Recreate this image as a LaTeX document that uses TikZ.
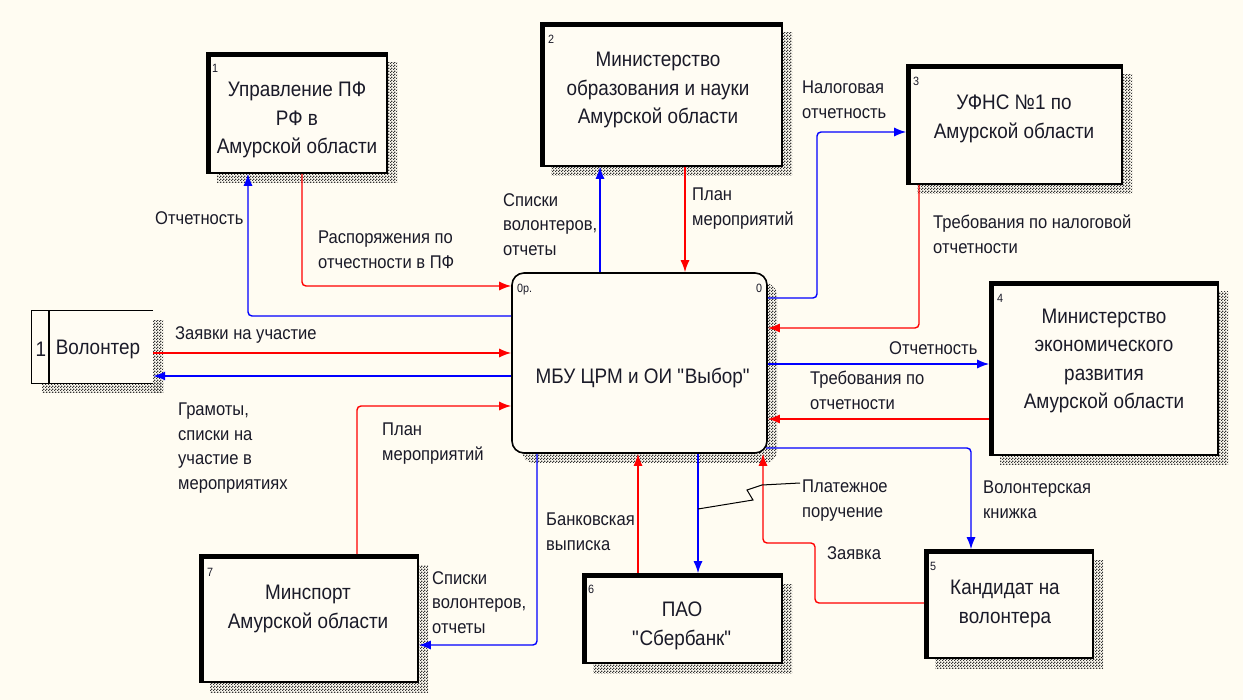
\documentclass[tikz,border=0pt]{standalone}
\usepackage{fontspec}
\setmainfont{Liberation Sans}[FakeStretch=0.9]
\usetikzlibrary{patterns,fit,arrows.meta}
\definecolor{bgc}{HTML}{FFFCF2}
\definecolor{boxc}{HTML}{FFFCF3}
\definecolor{txt}{HTML}{1A1A28}
\definecolor{rdc}{HTML}{FF0000}
\definecolor{blc}{HTML}{0000FF}
\pgfdeclarepatternformonly{checkerpat}{\pgfqpoint{0pt}{0pt}}{\pgfqpoint{3pt}{3pt}}{\pgfqpoint{3pt}{3pt}}{%
  \pgfpathrectangle{\pgfqpoint{0pt}{0pt}}{\pgfqpoint{1.5pt}{1.5pt}}%
  \pgfpathrectangle{\pgfqpoint{1.5pt}{1.5pt}}{\pgfqpoint{1.5pt}{1.5pt}}%
  \pgfusepath{fill}}
\newcommand\dq{\XeTeXglyph\XeTeXcharglyph"22\relax}
\begin{document}
\begin{tikzpicture}[x=1pt,y=-1pt,
  rline/.style={draw=rdc, line width=1.4pt, rounded corners=4pt, -{Latex[length=12pt,width=9pt]}},
  bline/.style={draw=blc, line width=1.4pt, rounded corners=4pt, -{Latex[length=12pt,width=9pt]}},
  lbl/.style={anchor=north west, inner sep=0pt, align=left, font=\fontsize{18.4}{24.5}\selectfont, text=txt},
  btxt/.style={align=center, inner sep=0pt, font=\fontsize{21}{28.5}\selectfont, text=txt},
  num/.style={anchor=north west, inner sep=0pt, font=\fontsize{12}{12}\selectfont, text=txt},
  frame/.style={draw=black, line width=1.6pt, fill=boxc, inner sep=0pt},
  thickb/.style={draw=black, line width=5pt},
  shadowst/.style={pattern=checkerpat, pattern color=black!80},
  sq/.style={draw=black, line width=1pt}
]
\useasboundingbox (0,0) rectangle (1243,700);
\fill[bgc] (0,0) rectangle (1243,700);

% ---------- shadows ----------
\fill[shadowst] (217,63) rectangle (397,183);
\fill[shadowst] (551,33) rectangle (792,176);
\fill[shadowst] (917,75) rectangle (1132,194);
\fill[shadowst] (1000,292) rectangle (1228,465);
\fill[shadowst] (210,565) rectangle (428,692);
\fill[shadowst] (593,584) rectangle (792,673);
\fill[shadowst] (935,560) rectangle (1103,668);
\fill[shadowst, rounded corners=12pt] (522,283) rectangle (777,463);
\fill[shadowst] (153,321) rectangle (163,393);
\fill[shadowst] (42,383) rectangle (163,393);

% ---------- boxes ----------
\node[frame, fit={(207,53)(387,173)}] (b1) {};
\draw[thickb] ([xshift=2pt]b1.south west) |- ([yshift=-2pt]b1.north east);
\node[btxt] (t1) at (297,120) {Управление ПФ\\РФ в\\Амурской области};
\node[num] (n1) at (212,64) {1};

\node[frame, fit={(541,23)(782,166)}] (b2) {};
\draw[thickb] ([xshift=2pt]b2.south west) |- ([yshift=-2pt]b2.north east);
\node[btxt] (t2) at (658,90) {Министерство\\образования и науки\\Амурской области};
\node[num] (n2) at (548,35) {2};

\node[frame, fit={(907,65)(1122,184)}] (b3) {};
\draw[thickb] ([xshift=2pt]b3.south west) |- ([yshift=-2pt]b3.north east);
\node[btxt] (t3) at (1014,119) {УФНС №1 по\\Амурской области};
\node[num] (n3) at (913,77) {3};

\node[frame, fit={(990,282)(1218,455)}] (b4) {};
\draw[thickb] ([xshift=2pt]b4.south west) |- ([yshift=-2pt]b4.north east);
\node[btxt] (t4) at (1104,361) {Министерство\\экономического\\развития\\Амурской области};
\node[num] (n4) at (997,294) {4};

\node[frame, fit={(200,555)(418,682)}] (b7) {};
\draw[thickb] ([xshift=2pt]b7.south west) |- ([yshift=-2pt]b7.north east);
\node[btxt] (t7) at (308,609) {Минспорт\\Амурской области};
\node[num] (n7) at (207,568) {7};

\node[frame, fit={(583,574)(782,663)}] (b6) {};
\draw[thickb] ([xshift=2pt]b6.south west) |- ([yshift=-2pt]b6.north east);
\node[btxt] (t6) at (682,626) {ПАО\\\dq Сбербанк\dq};
\node[num] (n6) at (588,585) {6};

\node[frame, fit={(925,550)(1093,658)}] (b5) {};
\draw[thickb] ([xshift=2pt]b5.south west) |- ([yshift=-2pt]b5.north east);
\node[btxt] (t5) at (1005,604) {Кандидат на\\волонтера};
\node[num] (n5) at (930,562) {5};

% center process
\node[frame, rounded corners=12pt, fit={(512,273)(767,453)}] (c) {};
\node[btxt] (tc) at (643,378) {МБУ ЦРМ и ОИ \dq Выбор\dq};
\node[num] (nc1) at (517,284) {0р.};
\node[num] (nc2) at (756,284) {0};

% volunteer external entity
\node[fill=boxc, inner sep=0pt, fit={(32,311)(153,383)}] (v) {};
\draw[black, line width=1.3pt] (v.north east) -- (v.north west) -- (v.south west) -- (v.south east);
\draw[black, line width=1.3pt] (v.north west -| 49,0) -- (v.south west -| 49,0);
\node[btxt] (tv1) at (41,349) {1};
\node[btxt] (tv) at (98,349) {Волонтер};

% ---------- connectors ----------
\draw[bline] (c.west |- 0,316) -| (b1.south -| 248,0);
\draw[rline] (b1.south -| 302,0) |- (c.west |- 0,286);
\draw[rline] (v.east |- 0,353) -- (c.west |- 0,353);
\draw[bline] (c.west |- 0,376) -- (v.east |- 0,376);
\draw[rline] (b7.north -| 357,0) |- (c.west |- 0,406);
\draw[bline] (c.south -| 537,0) |- (b7.east |- 0,645);
\draw[bline] (c.north -| 600,0) -- (b2.south -| 600,0);
\draw[rline] (b2.south -| 685,0) -- (c.north -| 685,0);
\coordinate (k3) at (817,132);
\draw[bline] (c.east |- 0,298) -| (k3) -- (b3.west |- k3);
\draw[rline] (b3.south -| 919,0) |- (c.east |- 0,328);
\draw[bline] (c.east |- 0,364) -- (b4.west |- 0,364);
\draw[rline] (b4.west |- 0,419) -- (c.east |- 0,419);
\draw[bline] ([xshift=-2pt]c.east |- 0,448) -| (b5.north -| 971,0);
\coordinate (k5) at (815,543);
\draw[rline] (b5.west |- 0,603) -| (k5) -| (c.south -| 763,0);
\draw[rline] (b6.north -| 638,0) -- (c.south -| 638,0);
\draw[bline] (c.south -| 698,0) -- (b6.north -| 698,0);

% ---------- labels ----------
\node[lbl] (l1) at (155,211) {Отчетность};
\node[lbl] (l2) at (318,231) {Распоряжения по\\отчестности в ПФ};
\node[lbl] (l3) at (175,326) {Заявки на участие};
\node[lbl] (l4) at (178,403) {Грамоты,\\списки на\\участие в\\мероприятиях};
\node[lbl] (l5) at (382,423) {План\\мероприятий};
\node[lbl] (l6) at (503,193) {Списки\\волонтеров,\\отчеты};
\node[lbl] (l7) at (692,188) {План\\мероприятий};
\node[lbl] (l8) at (802,81) {Налоговая\\отчетность};
\node[lbl] (l9) at (933,215) {Требования по налоговой\\отчетности};
\node[lbl] (l10) at (889,341) {Отчетность};
\node[lbl] (l11) at (810,371) {Требования по\\отчетности};
\node[lbl] (lpp) at (802,480) {Платежное\\поручение};
\node[lbl] (l13) at (983,481) {Волонтерская\\книжка};
\node[lbl] (l14) at (827,546) {Заявка};
\node[lbl] (l15) at (546,513) {Банковская\\выписка};
\node[lbl] (l16) at (432,571) {Списки\\волонтеров,\\отчеты};

\coordinate (pz) at (698,509);
\draw[sq] ([shift={(-2pt,-3pt)}]lpp.north west) -- (762,485) -- (747,490) -- (753,500) -- (pz);
\end{tikzpicture}
\end{document}
